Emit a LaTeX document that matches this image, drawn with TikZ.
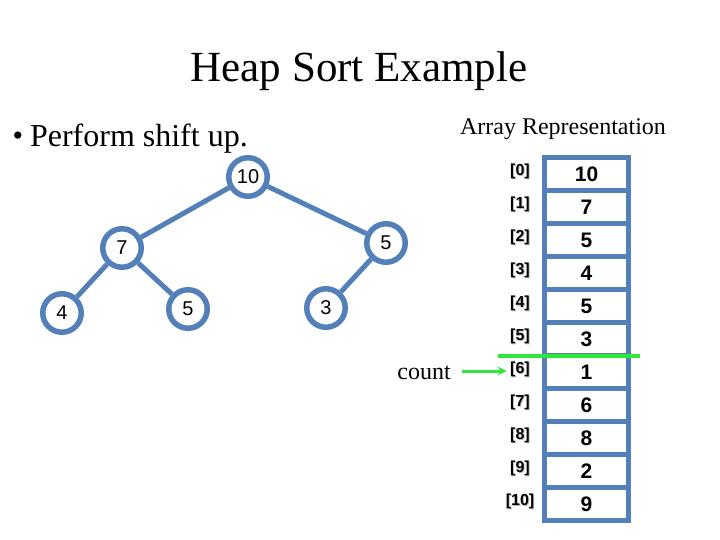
\documentclass[tikz,border=0pt]{standalone}
\usepackage{fontspec}
\setmainfont{Liberation Serif}
\newfontfamily\arial{Liberation Sans}
\definecolor{hblue}{RGB}{84,128,186}
\definecolor{hgreen}{RGB}{46,230,60}
\definecolor{shadowgray}{RGB}{190,190,190}
\begin{document}
\begin{tikzpicture}[x=1pt,y=-1pt,
  tnode/.style={circle,draw=hblue,line width=5.5pt,minimum size=38.5pt,inner sep=0pt,fill=white,font=\arial\fontsize{20}{20}\selectfont},
  tedge/.style={draw=hblue,line width=5pt},
  cell/.style={rectangle,draw=hblue,line width=5.3pt,minimum width=84pt,minimum height=33pt,inner sep=0pt,font=\arial\bfseries\fontsize{21}{21}\selectfont},
  idx/.style={font=\arial\bfseries\fontsize{16}{16}\selectfont,anchor=center},
  idxsh/.style={idx,text=shadowgray}]
\useasboundingbox (0,0) rectangle (720,540);
% title and texts
\node (title) at (359,71) {\fontsize{43}{43}\selectfont Heap Sort Example};
\node[anchor=west] (bullet) at (9,139) {\raisebox{1pt}{\fontsize{30}{30}\selectfont\textbullet}\hspace{7pt}\fontsize{32}{32}\selectfont Perform shift up.};
\node (arrrep) at (563,129) {\fontsize{24}{24}\selectfont Array Representation};
% tree
\node[tnode] (n0) at (248,177) {10};
\node[tnode] (n1) at (122,248) {7};
\node[tnode] (n2) at (386,243) {5};
\node[tnode] (n3) at (62,313) {4};
\node[tnode] (n4) at (188,309) {5};
\node[tnode] (n5) at (326,308) {3};
\draw[tedge] (n0) -- (n1);
\draw[tedge] (n0) -- (n2);
\draw[tedge] (n1) -- (n3);
\draw[tedge] (n1) -- (n4);
\draw[tedge] (n2) -- (n5);
% array
\foreach \v [count=\k from 0] in {10,7,5,4,5,3,1,6,8,2,9} {
  \node[cell] (c\k) at (586.5,174+33*\k) {\v};
  \node[idxsh] (s\k) at (521,172+33*\k) {[\k]};
  \node[idx] (i\k) at (520,171+33*\k) {[\k]};
}
% green marker line
\coordinate (gl) at (498,356);
\coordinate (gr) at (640,356);
\draw[hgreen,line width=4pt] (gl) -- (gr);
% count
\node (count) at (424,373) {\fontsize{24}{24}\selectfont count};
\coordinate (ca) at (462,371);
\draw[hgreen,line width=3pt,-stealth] (ca) -- (ca -| i6.west);
\end{tikzpicture}
\end{document}
